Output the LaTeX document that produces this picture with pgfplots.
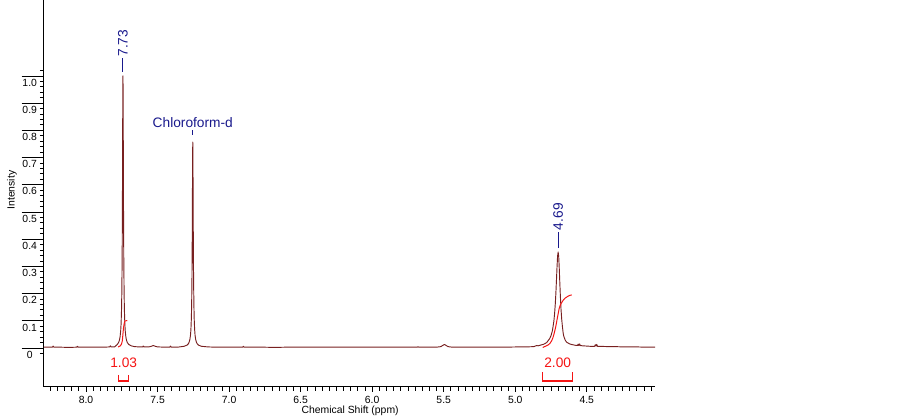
\documentclass[border=0pt]{standalone}
\usepackage{fontspec}
\setmainfont{Liberation Sans}
\usepackage{pgfplots}
\pgfplotsset{compat=1.18}
\definecolor{spec}{RGB}{120,32,32}
\definecolor{lblue}{RGB}{25,25,140}
\definecolor{ired}{RGB}{245,20,20}
\begin{document}
\begin{tikzpicture}
\useasboundingbox (0,0) rectangle (676.5pt,315pt);
\begin{axis}[
 at={(33pt,24.75pt)}, anchor=south west,
 scale only axis, width=458.25pt, height=290.25pt,
 x dir=reverse, xmin=4.023, xmax=8.294, ymin=-0.1434, ymax=1.279,
 axis x line*=bottom, axis y line*=left,
 axis line style={line width=0.75pt, black},
 clip=false,
 tick align=outside,
 major tick length=3.4pt, minor tick length=3pt,
 xtick={4.5,5,5.5,6,6.5,7,7.5,8},
 xticklabels={4.5,5.0,5.5,6.0,6.5,7.0,7.5,8.0},
 minor xtick={4.05,4.1,...,8.26},
 ytick={0,0.1,0.2,0.3,0.4,0.5,0.6,0.7,0.8,0.9,1.0},
 yticklabels={0,0.1,0.2,0.3,0.4,0.5,0.6,0.7,0.8,0.9,1.0},
 minor ytick={-0.02,0,...,1.021},
 ytick style={/pgfplots/major tick length=16.8pt},
 tick style={black, line width=0.6pt},
 tick label style={font=\fontsize{7.8}{9}\selectfont},
 xticklabel style={anchor=north},
 yticklabel style={anchor=center, xshift=-7.3pt, yshift=-5pt},
 xlabel={Chemical Shift (ppm)},
 every axis x label/.style={at={(axis description cs:0.501,-0.062)}, anchor=center, font=\fontsize{7.8}{9}\selectfont},
 ylabel={Intensity},
 every axis y label/.style={at={(axis description cs:-0.0524,0.509)}, anchor=center, rotate=90, font=\fontsize{7.8}{9}\selectfont},
]
% spectrum
\addplot[spec, line width=0.7pt, line join=round] coordinates {
(8.294,0.003) (8.26,0.003) (8.235,0.003) (8.23,0.007) (8.225,0.003) (8.18,0.003) (8.12,0.002)
(8.065,0.003) (8.06,0.006) (8.055,0.003) (7.98,0.003) (7.92,0.003) (7.87,0.003)
(7.835,0.004) (7.83,0.008) (7.825,0.004) (7.80,0.004)
(7.782,0.013) (7.772,0.0205) (7.767,0.028) (7.762,0.0415) (7.758,0.062) (7.755,0.0895)
(7.752,0.141) (7.750,0.203) (7.748,0.311) (7.747,0.393) (7.746,0.503) (7.745,0.643)
(7.744,0.803) (7.743,0.944) (7.742,1.0) (7.741,0.944) (7.740,0.803) (7.739,0.643)
(7.738,0.503) (7.737,0.393) (7.736,0.311) (7.734,0.203) (7.732,0.141) (7.729,0.0895)
(7.726,0.062) (7.722,0.0415) (7.717,0.028) (7.712,0.0205) (7.702,0.013) (7.682,0.0074)
(7.66,0.005) (7.63,0.004) (7.605,0.004) (7.60,0.007) (7.595,0.004) (7.56,0.004)
(7.545,0.006) (7.53,0.009) (7.515,0.006) (7.50,0.004) (7.45,0.003) (7.415,0.003)
(7.41,0.007) (7.405,0.003) (7.36,0.003) (7.314,0.0063)
(7.294,0.0105) (7.284,0.016) (7.279,0.022) (7.274,0.032) (7.270,0.047) (7.267,0.068)
(7.264,0.107) (7.262,0.154) (7.260,0.235) (7.259,0.297) (7.258,0.380) (7.257,0.486)
(7.256,0.606) (7.255,0.713) (7.254,0.757) (7.253,0.713) (7.252,0.606) (7.251,0.486)
(7.250,0.380) (7.249,0.297) (7.248,0.235) (7.246,0.154) (7.244,0.107) (7.241,0.068)
(7.238,0.047) (7.234,0.032) (7.229,0.022) (7.224,0.016) (7.214,0.0105) (7.194,0.0063)
(7.15,0.004) (7.10,0.003) (7.03,0.003) (6.96,0.003) (6.905,0.003) (6.90,0.006) (6.895,0.003)
(6.84,0.003) (6.76,0.003) (6.68,0.002) (6.60,0.003) (6.52,0.003) (6.44,0.003) (6.36,0.003)
(6.28,0.003) (6.20,0.003) (6.12,0.003) (6.04,0.003) (5.96,0.003) (5.88,0.003) (5.80,0.003)
(5.73,0.003) (5.685,0.003) (5.68,0.005) (5.675,0.003) (5.62,0.003) (5.55,0.003) (5.52,0.005)
(5.505,0.010) (5.495,0.013) (5.485,0.010) (5.47,0.005) (5.44,0.003) (5.38,0.003) (5.30,0.003)
(5.22,0.003) (5.14,0.003) (5.06,0.003) (4.98,0.004) (4.92,0.004) (4.87,0.005) (4.85,0.009)
(4.84,0.008) (4.80,0.014) (4.78,0.020) (4.76,0.034) (4.75,0.045) (4.74,0.064) (4.73,0.098)
(4.725,0.125) (4.72,0.162) (4.716,0.200) (4.712,0.247) (4.708,0.296) (4.704,0.337)
(4.700,0.353) (4.696,0.335) (4.692,0.290) (4.688,0.235) (4.684,0.185) (4.680,0.143)
(4.675,0.105) (4.670,0.078) (4.665,0.055) (4.660,0.042) (4.650,0.028) (4.640,0.021)
(4.620,0.015) (4.600,0.012) (4.58,0.010) (4.565,0.009) (4.56,0.014) (4.555,0.009)
(4.55,0.015) (4.545,0.009) (4.53,0.008) (4.50,0.007) (4.47,0.006) (4.445,0.006)
(4.44,0.012) (4.435,0.007) (4.43,0.013) (4.425,0.006) (4.40,0.006) (4.35,0.005)
(4.30,0.005) (4.25,0.004) (4.20,0.004) (4.15,0.004) (4.10,0.003) (4.05,0.003) (4.023,0.003)
};
% integral curves
\addplot[ired, line width=0.75pt, smooth] coordinates {
(7.776,0.004) (7.760,0.008) (7.752,0.015) (7.747,0.025) (7.744,0.040) (7.742,0.052)
(7.740,0.064) (7.737,0.078) (7.734,0.088) (7.731,0.095) (7.729,0.099)
};
\addplot[ired, line width=0.75pt] coordinates {(7.729,0.099) (7.712,0.101)};
\addplot[ired, line width=0.75pt, smooth] coordinates {
(4.808,0.002) (4.790,0.006) (4.770,0.011) (4.757,0.017) (4.745,0.027) (4.734,0.042)
(4.722,0.066) (4.714,0.086) (4.706,0.109) (4.699,0.128) (4.692,0.147) (4.684,0.159)
(4.675,0.167) (4.664,0.176) (4.652,0.183) (4.635,0.189) (4.620,0.193) (4.605,0.195)
};
% integral brackets and values
\draw[ired, line width=1pt] (7.774,-0.099) -- (7.774,-0.121) -- (7.704,-0.121) -- (7.704,-0.099);
\draw[ired, line width=1pt] (4.808,-0.088) -- (4.808,-0.121) -- (4.598,-0.121) -- (4.598,-0.088);
\node[ired, font=\fontsize{10.3}{12}\selectfont, anchor=center] at (7.737,-0.055) {1.03};
\node[ired, font=\fontsize{10.3}{12}\selectfont, anchor=center] at (4.703,-0.055) {2.00};
% peak labels
\draw[lblue, line width=0.75pt] (7.742,1.016) -- (7.742,1.066);
\node[lblue, font=\fontsize{10.3}{12}\selectfont, rotate=90, anchor=west, inner sep=0.5pt] at (7.742,1.068) {7.73};
\draw[lblue, line width=0.75pt] (4.700,0.367) -- (4.700,0.428);
\node[lblue, font=\fontsize{10.3}{12}\selectfont, rotate=90, anchor=west, inner sep=0.5pt] at (4.700,0.430) {4.69};
\draw[lblue, line width=0.75pt] (7.254,0.783) -- (7.254,0.800);
\node[lblue, font=\fontsize{10.3}{12}\selectfont, anchor=center] at (7.254,0.829) {Chloroform-d};
\end{axis}
\end{tikzpicture}
\end{document}
